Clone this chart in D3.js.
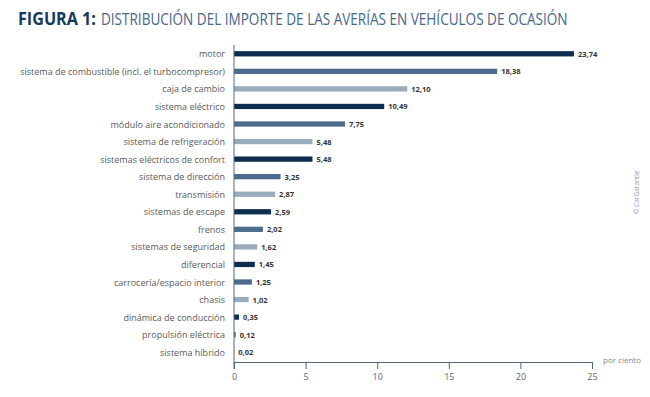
<!DOCTYPE html>
<html>
<head>
<meta charset="utf-8">
<script src="https://cdn.jsdelivr.net/npm/d3@7"></script>
<style>
  body { margin: 0; background: #fff; }
  svg { display: block; }
</style>
</head>
<body>
<svg id="chart" width="650" height="397"></svg>
<script>
// categories top to bottom
var categorias = [
  'motor',
  'sistema de combustible (incl. el turbocompresor)',
  'caja de cambio',
  'sistema eléctrico',
  'módulo aire acondicionado',
  'sistema de refrigeración',
  'sistemas eléctricos de confort',
  'sistema de dirección',
  'transmisión',
  'sistemas de escape',
  'frenos',
  'sistemas de seguridad',
  'diferencial',
  'carrocería/espacio interior',
  'chasis',
  'dinámica de conducción',
  'propulsión eléctrica',
  'sistema híbrido'
]
var valores = [23.74, 18.38, 12.10, 10.49, 7.75, 5.48, 5.48, 3.25, 2.87, 2.59, 2.02, 1.62, 1.45, 1.25, 1.02, 0.35, 0.12, 0.02]
var ticks = [0, 5, 10, 15, 20, 25]
var tonos = ['#0c2d4e', '#4c6c8c', '#9aabbe']

var svg = d3.select('#chart')

// title in two parts, squeezed horizontally to the width of the condensed original
function squeezed (txt, left, width, color, weight) {
  var g = svg.append('g')
  var t = g.append('text')
    .attr('fill', color)
    .style('font-family', '"Open Sans", sans-serif')
    .style('font-size', '17px')
    .style('font-weight', weight)
    .text(txt)
  var w = t.node().getComputedTextLength()
  g.attr('transform', 'translate(' + left + ',25) scale(' + (width / w) + ',1)')
}
squeezed('FIGURA 1:', 18, 78, '#143a5e', 'bold')
squeezed('DISTRIBUCIÓN DEL IMPORTE DE LAS AVERÍAS EN VEHÍCULOS DE OCASIÓN', 101, 467, '#46668a', 'normal')

var x = d3.scaleLinear().domain([0, 25]).range([234, 592])
var y = d3.scaleBand().domain(categorias).range([45, 361]).paddingInner(0.7).paddingOuter(0.35)

// bars
svg.selectAll('rect.bar')
  .data(valores)
  .enter().append('rect')
  .attr('class', 'bar')
  .attr('x', x(0))
  .attr('y', function (d, i) { return y(categorias[i]) })
  .attr('width', function (d) { return x(d) - x(0) })
  .attr('height', y.bandwidth())
  .attr('fill', function (d, i) { return tonos[i % 3] })

// value labels
svg.selectAll('text.val')
  .data(valores)
  .enter().append('text')
  .attr('class', 'val')
  .attr('x', function (d) { return x(d) + 4 })
  .attr('y', function (d, i) { return y(categorias[i]) + y.bandwidth() / 2 + 3 })
  .attr('fill', '#333')
  .style('font-family', '"Open Sans", sans-serif')
  .style('font-size', '7.5px')
  .style('font-weight', 'bold')
  .text(function (d) { return d.toFixed(2).replace('.', ',') })

// category labels
svg.selectAll('text.cat')
  .data(categorias)
  .enter().append('text')
  .attr('class', 'cat')
  .attr('x', 225)
  .attr('y', function (d) { return y(d) + y.bandwidth() / 2 + 3.5 })
  .attr('text-anchor', 'end')
  .attr('fill', '#5a5a5a')
  .style('font-family', '"Open Sans", sans-serif')
  .style('font-size', '9px')
  .text(function (d) { return d })

// y axis line
svg.append('line')
  .attr('x1', x(0)).attr('x2', x(0))
  .attr('y1', 45).attr('y2', 369)
  .attr('stroke', '#50687f').attr('stroke-width', 1)

// x axis
var xAxis = d3.axisBottom(x).tickValues(ticks).tickSize(7).tickFormat(d3.format('d'))
var gx = svg.append('g')
  .attr('transform', 'translate(0,362)')
  .call(xAxis)
gx.select('.domain').attr('stroke', '#50687f')
gx.selectAll('.tick line').attr('stroke', '#50687f')
gx.selectAll('.tick text')
  .attr('fill', '#666')
  .attr('dy', '0.9em')
  .style('font-family', '"Open Sans", sans-serif')
  .style('font-size', '9px')

svg.append('text')
  .attr('x', 603).attr('y', 363)
  .attr('fill', '#888')
  .style('font-family', '"Open Sans", sans-serif')
  .style('font-size', '8px')
  .text('por ciento')

// source
svg.append('text')
  .attr('transform', 'translate(639,214) rotate(-90)')
  .attr('fill', '#8aa0b8')
  .style('font-family', '"Open Sans", sans-serif')
  .style('font-size', '6.5px')
  .text('© CarGarantie')
</script>
</body>
</html>
